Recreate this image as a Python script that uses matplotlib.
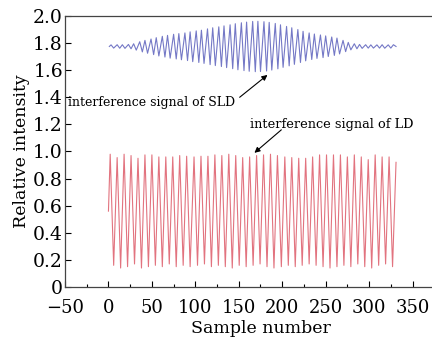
import matplotlib
matplotlib.use("Agg")
import matplotlib.pyplot as plt
from matplotlib.ticker import MultipleLocator, FuncFormatter

sld_x = [1, 3, 6, 10, 13, 16, 19, 23, 26, 29, 32, 36, 39, 42, 45, 49, 52, 55, 58,
         62, 65, 68, 71, 75, 78, 81, 84, 88, 91, 94, 97, 101, 104, 107, 110, 114,
         117, 120, 123, 127, 130, 133, 136, 140, 143, 146, 149, 153, 156, 159, 162,
         166, 169, 172, 175, 179, 182, 185, 188, 192, 195, 198, 201, 205, 208, 211,
         214, 218, 221, 224, 227, 231, 234, 237, 240, 244, 247, 250, 253, 257, 260,
         263, 266, 270, 273, 276, 279, 283, 286, 289, 292, 296, 299, 302, 305, 309,
         312, 315, 318, 322, 325, 328, 331]
sld_y = [1.775, 1.787, 1.763, 1.788, 1.762, 1.788, 1.761, 1.790, 1.758, 1.795, 1.748,
         1.810, 1.735, 1.820, 1.725, 1.830, 1.715, 1.840, 1.705, 1.850, 1.697, 1.857,
         1.689, 1.865, 1.683, 1.870, 1.677, 1.875, 1.671, 1.883, 1.663, 1.890, 1.657,
         1.895, 1.650, 1.905, 1.641, 1.913, 1.634, 1.920, 1.627, 1.927, 1.619, 1.935,
         1.611, 1.943, 1.603, 1.950, 1.597, 1.955, 1.592, 1.960, 1.589, 1.961, 1.590,
         1.958, 1.594, 1.953, 1.601, 1.945, 1.610, 1.935, 1.621, 1.923, 1.632, 1.913,
         1.643, 1.900, 1.657, 1.887, 1.669, 1.875, 1.679, 1.867, 1.687, 1.860, 1.693,
         1.853, 1.701, 1.845, 1.709, 1.837, 1.720, 1.820, 1.737, 1.805, 1.750, 1.795,
         1.758, 1.790, 1.761, 1.788, 1.763, 1.787, 1.763, 1.787, 1.763, 1.788, 1.762,
         1.787, 1.763, 1.788, 1.775]

ld_x = [0, 2, 6, 10, 14, 18, 22, 26, 30, 34, 38, 42, 46, 50, 54, 58, 62, 66, 70,
        74, 78, 82, 86, 90, 94, 98.5, 102.5, 106.5, 110.5, 114.5, 118.5, 122.5,
        126.5, 130.5, 134.5, 138.5, 142.5, 146.5, 150.5, 154.5, 158.5, 162.5, 166.5,
        170.5, 174.5, 178.5, 182.5, 186.5, 190.5, 194.5, 199, 203, 207, 211, 215,
        219, 223, 227, 231, 235, 239, 243, 247, 251, 255, 259, 263, 267, 271, 275,
        279, 283, 287, 291, 295, 299, 303, 307, 311, 315, 319, 323, 327, 331]
ld_y = [0.56, 0.98, 0.16, 0.955, 0.14, 0.98, 0.15, 0.97, 0.17, 0.95, 0.14, 0.975,
        0.15, 0.975, 0.16, 0.96, 0.15, 0.96, 0.17, 0.96, 0.15, 0.97, 0.16, 0.965,
        0.15, 0.96, 0.16, 0.965, 0.17, 0.965, 0.15, 0.975, 0.16, 0.97, 0.15, 0.98,
        0.14, 0.97, 0.16, 0.955, 0.15, 0.96, 0.16, 0.97, 0.17, 0.975, 0.15, 0.98,
        0.14, 0.97, 0.15, 0.96, 0.16, 0.955, 0.15, 0.95, 0.16, 0.95, 0.17, 0.96,
        0.16, 0.975, 0.15, 0.975, 0.14, 0.975, 0.15, 0.975, 0.16, 0.96, 0.15, 0.975,
        0.17, 0.96, 0.15, 0.94, 0.14, 0.975, 0.16, 0.96, 0.17, 0.96, 0.15, 0.92]

x_ticks = [-50, 0, 50, 100, 150, 200, 250, 300, 350]
y_ticks = [0, 0.2, 0.4, 0.6, 0.8, 1.0, 1.2, 1.4, 1.6, 1.8, 2.0]

plt.rcParams['font.family'] = ['DejaVu Serif']

fig = plt.figure(figsize=(4.32, 3.38), dpi=100)
ax = fig.add_axes([0.1505, 0.1509, 0.905, 0.8018])

ax.plot(sld_x, sld_y, color='#7478c6', lw=0.8)
ax.plot(ld_x, ld_y, color='#e2737f', lw=0.8)

ax.set_xlim(-50, 400)
ax.set_ylim(0, 2.0)
ax.set_xticks(x_ticks)
ax.set_yticks(y_ticks)
ax.xaxis.set_minor_locator(MultipleLocator(25))
ax.yaxis.set_major_formatter(FuncFormatter(lambda v, p: '0' if abs(v) < 1e-9 else f'{v:.1f}'))
ax.tick_params(which='major', direction='in', length=4, width=0.8, labelsize=13.5)
ax.tick_params(axis='x', which='major', pad=8.5, labelsize=13)
ax.tick_params(axis='y', which='major', pad=1.5)
ax.tick_params(which='minor', direction='in', length=2.5, width=0.8)
for s in ax.spines.values():
    s.set_color('#444444')
    s.set_linewidth(0.9)

ax.set_xlabel('Sample number', fontsize=12.5, labelpad=2.5)
ax.set_ylabel('Relative intensity', fontsize=12.5, labelpad=2)

arrow = dict(arrowstyle='-|>', color='black', lw=0.8, mutation_scale=8,
             shrinkA=0, shrinkB=0)
ax.annotate('', xy=(183, 1.565), xytext=(151, 1.40), arrowprops=arrow)
ax.text(146, 1.36, 'interference signal of SLD', fontsize=9, ha='right', va='center')
ax.annotate('', xy=(168, 0.99), xytext=(199, 1.16), arrowprops=arrow)
ax.text(163, 1.20, 'interference signal of LD', fontsize=9.3, ha='left', va='center')

fig.savefig('out.png', dpi=100)
